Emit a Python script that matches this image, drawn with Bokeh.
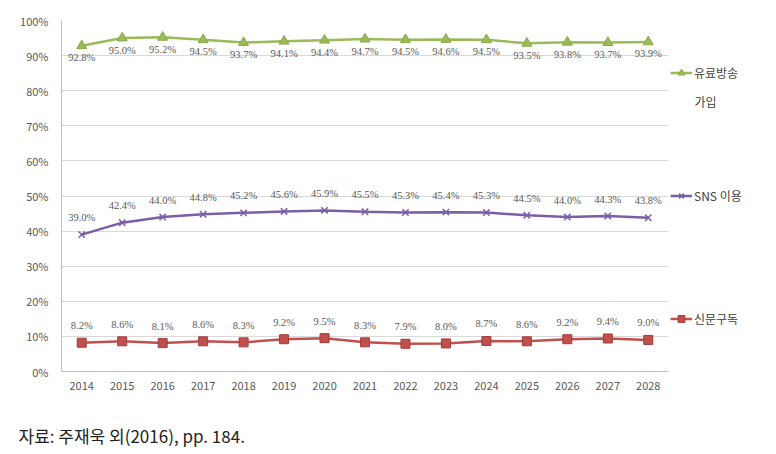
from bokeh.plotting import figure
from bokeh.layouts import row, column
from bokeh.models import (ColumnDataSource, FactorRange, Range1d, LabelSet, Label,
                          Legend, LegendItem, FixedTicker, PrintfTickFormatter)
from bokeh.embed import file_html
from bokeh.resources import INLINE

years = [str(y) for y in range(2014, 2029)]
paytv = [92.8, 95.0, 95.2, 94.5, 93.7, 94.1, 94.4, 94.7, 94.5, 94.6, 94.5, 93.5, 93.8, 93.7, 93.9]
sns = [39.0, 42.4, 44.0, 44.8, 45.2, 45.6, 45.9, 45.5, 45.3, 45.4, 45.3, 44.5, 44.0, 44.3, 43.8]
news = [8.2, 8.6, 8.1, 8.6, 8.3, 9.2, 9.5, 8.3, 7.9, 8.0, 8.7, 8.6, 9.2, 9.4, 9.0]
y_ticks = [0, 10, 20, 30, 40, 50, 60, 70, 80, 90, 100]
series_names = [["유료방송", "가입"], ["SNS 이용"], ["신문구독"]]
caption = "자료: 주재욱 외(2016), pp. 184."

FONT = "Noto Sans CJK KR"
GREEN = "#9bbb59"
PURPLE = "#7b5ea7"
RED = "#c0504d"
STYLES = [
    dict(line_color=GREEN, marker="triangle", size=10, fill_color=GREEN, m_line="#8aa84a", lw=1),
    dict(line_color=PURPLE, marker="x", size=9, fill_color=PURPLE, m_line=PURPLE, lw=1.5),
    dict(line_color=RED, marker="square", size=9, fill_color=RED, m_line="#a03c3a", lw=1),
]

src = ColumnDataSource(dict(
    x=years, paytv=paytv, sns=sns, news=news,
    paytv_l=[f"{v:.1f}%" for v in paytv],
    sns_l=[f"{v:.1f}%" for v in sns],
    news_l=[f"{v:.1f}%" for v in news],
))

H = 410
p = figure(width=670, height=H, output_backend="svg", toolbar_location=None,
           x_range=FactorRange(*years, range_padding=0), y_range=Range1d(0, 100),
           min_border_left=61, min_border_right=2, min_border_top=20, min_border_bottom=39)
p.outline_line_color = None
p.xgrid.grid_line_color = None
p.ygrid.grid_line_color = "#d9d9d9"
p.ygrid.grid_line_width = 1.2
p.yaxis.ticker = FixedTicker(ticks=y_ticks)
p.yaxis.formatter = PrintfTickFormatter(format="%d%%")
for ax in (p.xaxis, p.yaxis):
    ax.axis_line_color = "#bfbfbf"
    ax.major_tick_line_color = None
    ax.minor_tick_line_color = None
    ax.major_label_text_font = FONT
    ax.major_label_text_font_size = "11px"
    ax.major_label_text_color = "#595959"
p.xaxis.major_label_standoff = 4
p.yaxis.major_label_standoff = 7

for col, st in zip(("paytv", "sns", "news"), STYLES):
    p.line("x", col, source=src, line_color=st["line_color"], line_width=2.5)
    p.scatter("x", col, source=src, marker=st["marker"], size=st["size"],
              fill_color=st["fill_color"], line_color=st["m_line"], line_width=st["lw"])

for col, off in (("paytv", -12), ("sns", 17), ("news", 17)):
    p.add_layout(LabelSet(x="x", y=col, text=col + "_l", source=src, y_offset=off,
                          text_font=FONT, text_font_size="10.5px", text_color="#595959",
                          text_align="center", text_baseline="middle"))

# legend panel
q = figure(width=98, height=H, output_backend="svg", toolbar_location=None,
           x_range=Range1d(0, 98), y_range=Range1d(0, H),
           x_axis_location=None, y_axis_location=None,
           min_border_left=0, min_border_right=0, min_border_top=0, min_border_bottom=0)
q.outline_line_color = None
q.grid.grid_line_color = None
items = []
for names, st in zip(series_names, STYLES):
    r1 = q.line(x=[0], y=[float("nan")], line_color=st["line_color"], line_width=2.5)
    r2 = q.scatter(x=[0], y=[float("nan")], marker=st["marker"], size=st["size"] - 1,
                   fill_color=st["fill_color"], line_color=st["m_line"], line_width=st["lw"])
    items.append(LegendItem(label=names[0], renderers=[r1, r2]))
q.add_layout(Legend(items=items, location=(0, 44), padding=0, margin=0,
                    glyph_width=22, glyph_height=17, label_standoff=2, spacing=106,
                    border_line_color=None, background_fill_alpha=0,
                    label_text_font=FONT, label_text_font_size="12px",
                    label_text_color="#404040"), "center")
q.add_layout(Label(x=24, y=H - 95, text=series_names[0][1], text_font=FONT,
                   text_font_size="12px", text_color="#404040", text_baseline="middle"))

# caption
CH = 42
c = figure(width=768, height=CH, output_backend="svg", toolbar_location=None,
           x_range=Range1d(0, 768), y_range=Range1d(0, CH),
           x_axis_location=None, y_axis_location=None,
           min_border_left=0, min_border_right=0, min_border_top=0, min_border_bottom=0)
c.outline_line_color = None
c.grid.grid_line_color = None
c.add_layout(Label(x=18, y=CH - 25, text=caption, text_font=FONT, text_font_size="17px",
                   text_color="#222222", text_baseline="middle"))

open("out.html", "w").write(file_html(column(row(p, q), c), INLINE))
